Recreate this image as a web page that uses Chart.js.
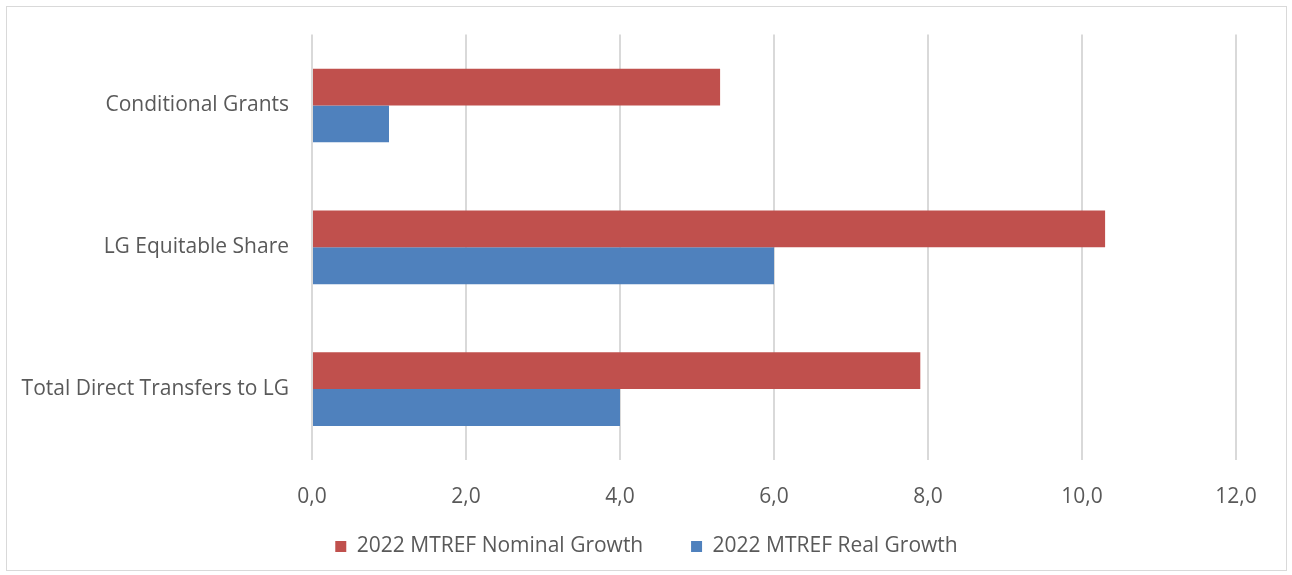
<!DOCTYPE html>
<html>
<head>
<meta charset="utf-8">
<script src="https://cdn.jsdelivr.net/npm/chart.js"></script>
<style>
    body { margin: 0; background: #fff; }
    #box {
        position: absolute; left: 6px; top: 6px;
        width: 1279px; height: 563px;
        border: 1px solid #d9d9d9; background: #fff;
    }
</style>
</head>
<body>
<div id="box"><canvas id="chart"></canvas></div>
<script>
const categories = ["Conditional Grants", "LG Equitable Share", "Total Direct Transfers to LG"];
const nominalGrowth = [5.3, 10.3, 7.9];
const realGrowth = [1.0, 6.0, 4.0];
const xTicks = [0, 2, 4, 6, 8, 10, 12];

const txt = "#595959";
const font = { family: "'Open Sans', 'Liberation Sans', sans-serif", size: 21 };

const ctx = document.getElementById('chart').getContext('2d');
const myChart = new Chart(ctx, {
    type: 'bar',
    data: {
        labels: categories,
        datasets: [{
            label: "2022 MTREF Nominal Growth",
            data: nominalGrowth,
            backgroundColor: "#c0504d"
        }, {
            label: "2022 MTREF Real Growth",
            data: realGrowth,
            backgroundColor: "#4f81bd"
        }]
    },
    options: {
        indexAxis: 'y',
        responsive: true,
        maintainAspectRatio: false,
        animation: false,
        categoryPercentage: 0.52,
        barPercentage: 1,
        layout: { padding: { top: 23, right: 0, bottom: 3, left: 0 } },
        scales: {
            x: {
                min: xTicks[0],
                max: xTicks[xTicks.length - 1],
                afterBuildTicks: scale => { scale.ticks = xTicks.map(v => ({ value: v })); },
                grid: { color: "#d9d9d9", lineWidth: 2, drawTicks: false },
                border: { display: false },
                ticks: {
                    color: txt, font: font, padding: 24,
                    callback: v => v.toFixed(1).replace(".", ",")
                },
                afterFit: scale => { scale.height = 50; }
            },
            y: {
                grid: { display: false },
                border: { display: false },
                ticks: { color: txt, font: font, padding: 15 },
                afterFit: scale => { scale.width = 305; }
            },
            // empty right-hand spacer so the plot ends where the original does
            yRight: {
                type: 'category',
                position: 'right',
                grid: { display: false },
                border: { display: false },
                ticks: { display: false },
                afterFit: scale => { scale.width = 50; }
            }
        },
        plugins: {
            legend: {
                position: 'bottom',
                labels: {
                    color: txt, font: font, boxWidth: 11, boxHeight: 11, padding: 26,
                    // wider gap between the two entries, like the original
                    generateLabels: chart => {
                        const items = Chart.defaults.plugins.legend.labels.generateLabels(chart);
                        items[0].text = items[0].text + "    ";
                        return items;
                    }
                }
            },
            tooltip: { enabled: false }
        }
    }
});
</script>
</body>
</html>
